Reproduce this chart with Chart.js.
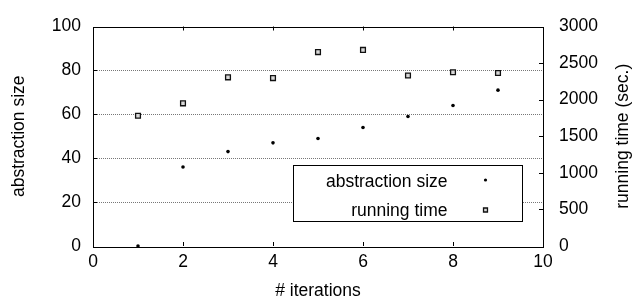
<!DOCTYPE html>
<html>
<head>
<meta charset="utf-8">
<script src="https://cdn.jsdelivr.net/npm/chart.js@4"></script>
<style>
  html, body { margin: 0; padding: 0; background: #fff; }
  canvas { display: block; }
</style>
</head>
<body>
<canvas id="iterChart" width="638" height="300"></canvas>
<script>
// values
const iterations = [1, 2, 3, 4, 5, 6, 7, 8, 9];
const abstractionSize = [0, 36, 43, 47, 49, 54, 59, 64, 71];
const runningTime = [1780, 1950, 2305, 2295, 2650, 2680, 2330, 2375, 2365];

const xTicks = [0, 2, 4, 6, 8, 10];
const yTicks = [0, 20, 40, 60, 80, 100];
const y2Ticks = [0, 500, 1000, 1500, 2000, 2500, 3000];

const seriesNames = ["abstraction size", "running time"];

const FONT = "'Liberation Sans', Arial, Helvetica, sans-serif";
const FSIZE = 17.5;

Chart.defaults.font.family = FONT;
Chart.defaults.font.size = FSIZE;
Chart.defaults.color = "#000";

function fixedTicks(list) {
    return function (scale) {
        scale.ticks = list.map(v => ({ value: v }));
    };
}

// frame, dotted grid and inward tick marks, gnuplot style
const framePlugin = {
    id: "frame",
    beforeDatasetsDraw(chart) {
        const { ctx, chartArea: a, scales } = chart;
        ctx.save();
        ctx.lineWidth = 1;
        ctx.strokeStyle = "#777";
        ctx.setLineDash([1, 1]);
        yTicks.slice(1, -1).forEach(v => {
            const y = Math.round(scales.y.getPixelForValue(v)) + 0.5;
            ctx.beginPath();
            ctx.moveTo(a.left, y);
            ctx.lineTo(a.right, y);
            ctx.stroke();
        });
        ctx.setLineDash([]);
        ctx.strokeStyle = "#000";
        const tl = 4;
        ctx.beginPath();
        xTicks.slice(1, -1).forEach(v => {
            const x = Math.round(scales.x.getPixelForValue(v)) + 0.5;
            ctx.moveTo(x, a.top); ctx.lineTo(x, a.top + tl);
            ctx.moveTo(x, a.bottom); ctx.lineTo(x, a.bottom - tl);
        });
        yTicks.slice(1, -1).forEach(v => {
            const y = Math.round(scales.y.getPixelForValue(v)) + 0.5;
            ctx.moveTo(a.left, y); ctx.lineTo(a.left + tl, y);
        });
        y2Ticks.slice(1, -1).forEach(v => {
            const y = Math.round(scales.y2.getPixelForValue(v)) + 0.5;
            ctx.moveTo(a.right, y); ctx.lineTo(a.right - tl, y);
        });
        ctx.stroke();
        ctx.strokeRect(Math.round(a.left) + 0.5, Math.round(a.top) + 0.5,
            Math.round(a.right - a.left), Math.round(a.bottom - a.top));
        ctx.restore();
    }
};

// boxed legend in the lower right, plus the right axis title
const keyPlugin = {
    id: "key",
    afterDatasetsDraw(chart) {
        const { ctx, chartArea: a } = chart;
        const right = Math.round(a.right - 21.5) + 0.5;
        const bottom = Math.round(a.bottom - 25.5) + 0.5;
        const w = 229, h = 56;
        const left = right - w, top = bottom - h;
        ctx.save();
        ctx.fillStyle = "#fff";
        ctx.fillRect(left, top, w, h);
        ctx.strokeStyle = "#000";
        ctx.lineWidth = 1;
        ctx.strokeRect(left, top, w, h);

        ctx.font = FSIZE + "px " + FONT;
        ctx.textAlign = "right";
        ctx.textBaseline = "alphabetic";
        const baselines = [top + 21.5, top + 50.5];
        const markY = [top + 14.5, top + 44.5];
        const markR = [1.6, 2.8];
        chart.data.datasets.forEach((ds, i) => {
            ctx.fillStyle = "#000";
            ctx.fillText(seriesNames[i], right - 75, baselines[i]);
            ctx.fillStyle = ds.backgroundColor;
            ctx.strokeStyle = ds.borderColor;
            ctx.lineWidth = ds.borderWidth;
            Chart.helpers.drawPoint(ctx, {
                pointStyle: ds.pointStyle,
                radius: markR[i],
                borderWidth: ds.borderWidth
            }, right - 37, markY[i]);
        });

        // y2 title reads bottom to top
        ctx.fillStyle = "#000";
        ctx.translate(628, (a.top + a.bottom) / 2);
        ctx.rotate(-Math.PI / 2);
        ctx.textAlign = "center";
        ctx.textBaseline = "alphabetic";
        ctx.fillText("running time (sec.)", 0, 0);
        ctx.restore();
    }
};

new Chart(document.getElementById("iterChart"), {
    type: "scatter",
    data: {
        datasets: [{
            label: seriesNames[0],
            data: iterations.map((x, i) => ({ x: x, y: abstractionSize[i] })),
            yAxisID: "y",
            pointStyle: "circle",
            pointRadius: 1.8,
            backgroundColor: "#000",
            borderColor: "#000",
            borderWidth: 0,
            clip: false
        }, {
            label: seriesNames[1],
            data: iterations.map((x, i) => ({ x: x, y: runningTime[i] })),
            yAxisID: "y2",
            pointStyle: "rect",
            pointRadius: 3.4,
            backgroundColor: "#d8d8d8",
            borderColor: "#111",
            borderWidth: 1.3,
            clip: false
        }]
    },
    options: {
        responsive: false,
        animation: false,
        devicePixelRatio: 1,
        layout: { padding: { top: 14, left: 0, right: 0, bottom: 0 } },
        plugins: {
            legend: { display: false },
            tooltip: { enabled: false }
        },
        scales: {
            x: {
                type: "linear",
                min: 0,
                max: 10,
                afterBuildTicks: fixedTicks(xTicks),
                afterFit(scale) { scale.height = 54; },
                grid: { display: false, drawTicks: false },
                border: { display: false },
                ticks: { padding: 6, maxRotation: 0, callback: v => String(v) },
                title: { display: true, text: "# iterations", padding: { top: 0, bottom: -2 } }
            },
            y: {
                position: "left",
                min: 0,
                max: 100,
                afterBuildTicks: fixedTicks(yTicks),
                afterFit(scale) { scale.width = 93; },
                grid: { display: false, drawTicks: false },
                border: { display: false },
                ticks: { padding: 12, callback: v => String(v) },
                title: { display: true, text: "abstraction size", padding: { top: 8.4, bottom: 0 } }
            },
            y2: {
                position: "right",
                min: 0,
                max: 3000,
                afterBuildTicks: fixedTicks(y2Ticks),
                afterFit(scale) { scale.width = 95; },
                grid: { display: false, drawTicks: false },
                border: { display: false },
                ticks: { padding: 16, callback: v => String(v) }
            }
        }
    },
    plugins: [framePlugin, keyPlugin]
});
</script>
</body>
</html>
